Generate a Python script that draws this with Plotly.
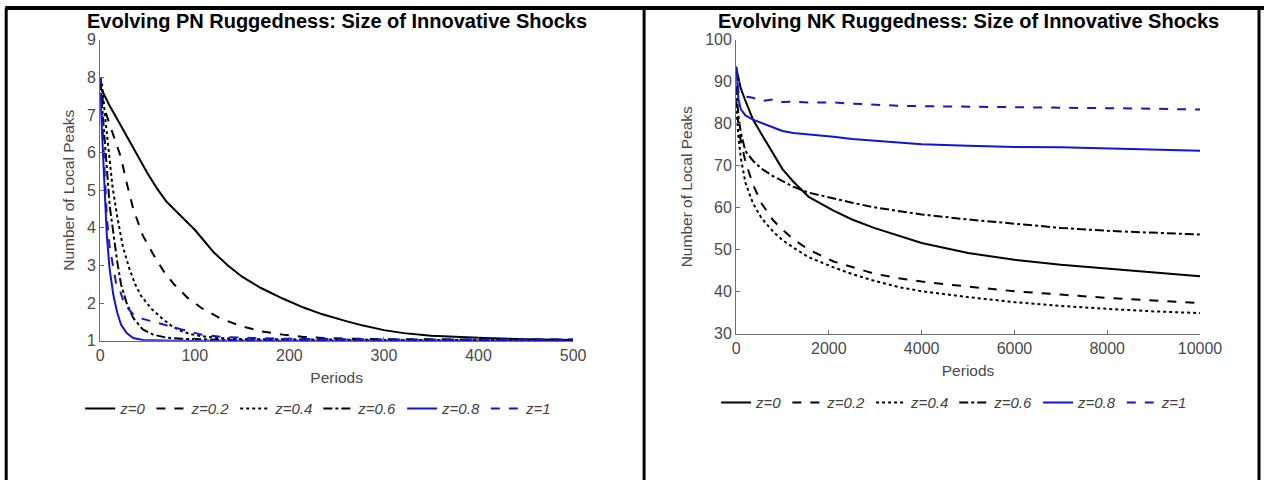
import plotly.graph_objects as go

# ---------------- Data: left panel (PN ruggedness) ----------------
labels = ["z=0", "z=0.2", "z=0.4", "z=0.6", "z=0.8", "z=1"]

pn_x_z0 = [0, 1, 3, 10, 20, 30, 40, 50, 60, 70, 80, 90, 100, 110, 120, 135, 150, 170, 193, 215, 235, 260, 278, 300, 321, 350, 380, 406, 450, 500]
pn_y_z0 = [8.0, 7.7, 7.6, 7.25, 6.8, 6.35, 5.9, 5.45, 5.05, 4.7, 4.45, 4.2, 3.95, 3.65, 3.35, 3.0, 2.7, 2.4, 2.12, 1.88, 1.7, 1.52, 1.4, 1.28, 1.2, 1.13, 1.09, 1.07, 1.04, 1.02]

pn_x_z02 = [0, 2, 4, 10, 16, 22, 28, 35, 45, 56, 67, 78, 92, 107, 128, 150, 170, 193, 215, 235, 270, 300, 400, 500]
pn_y_z02 = [8.0, 7.5, 7.2, 6.75, 6.3, 5.87, 5.2, 4.5, 3.8, 3.3, 2.85, 2.5, 2.15, 1.87, 1.58, 1.38, 1.25, 1.16, 1.1, 1.07, 1.05, 1.04, 1.03, 1.03]

pn_x_z04 = [0, 2, 5, 9, 13, 18, 24, 31, 37, 43, 54, 65, 75, 86, 96, 107, 125, 150, 200, 300, 500]
pn_y_z04 = [8.0, 7.8, 7.0, 6.0, 5.1, 4.3, 3.5, 2.9, 2.5, 2.2, 1.85, 1.6, 1.4, 1.25, 1.17, 1.12, 1.07, 1.04, 1.03, 1.02, 1.02]

pn_x_z06 = [0, 2, 4, 7, 10, 14, 18, 22, 28, 35, 45, 56, 70, 86, 110, 150, 300, 500]
pn_y_z06 = [7.9, 7.3, 6.5, 5.6, 4.6, 3.8, 3.1, 2.5, 2.0, 1.6, 1.3, 1.16, 1.08, 1.05, 1.03, 1.01, 1.0, 1.0]

pn_x_z08 = [0, 1, 2, 4, 7, 10, 14, 18, 22, 28, 35, 45, 56, 80, 500]
pn_y_z08 = [7.6, 7.0, 6.4, 5.6, 3.8, 2.9, 2.2, 1.75, 1.43, 1.2, 1.07, 1.02, 1.01, 1.0, 1.0]

pn_x_z1 = [0, 1, 2, 4, 7, 10, 14, 17, 20, 24, 28, 35, 45, 56, 70, 86, 107, 129, 160, 193, 250, 300, 500]
pn_y_z1 = [8.0, 7.5, 6.9, 6.0, 4.3, 3.5, 2.9, 2.5, 2.4, 2.1, 1.9, 1.7, 1.58, 1.5, 1.4, 1.3, 1.16, 1.1, 1.07, 1.05, 1.04, 1.03, 1.03]

# ---------------- Data: right panel (NK ruggedness) ----------------
nk_x = [0, 50, 100, 200, 365, 550, 800, 1000, 1235, 1565, 2100, 2500, 2974, 3500, 4000, 5000, 6000, 7000, 8000, 9000, 10000]
nk_y_z0 = [93.5, 91.0, 88.5, 85.5, 81.0, 77.5, 73.0, 69.2, 66.2, 62.6, 59.3, 57.2, 55.2, 53.4, 51.6, 49.2, 47.6, 46.4, 45.5, 44.6, 43.7]
nk_y_z02 = [86.0, 80.0, 76.0, 71.0, 65.5, 61.0, 57.0, 54.8, 52.5, 50.0, 47.2, 45.8, 44.3, 43.2, 42.4, 41.2, 40.1, 39.3, 38.5, 37.9, 37.3]
nk_y_z04 = [84.5, 77.0, 72.0, 66.0, 61.0, 57.5, 54.3, 52.3, 50.5, 48.2, 45.8, 44.2, 42.6, 41.1, 40.1, 38.7, 37.5, 36.6, 35.9, 35.3, 34.9]
nk_y_z06 = [89.0, 82.0, 78.0, 73.5, 71.2, 69.3, 67.5, 66.3, 65.0, 63.6, 62.2, 61.2, 60.1, 59.2, 58.4, 57.2, 56.2, 55.2, 54.5, 54.0, 53.6]
nk_y_z08 = [93.5, 86.0, 83.5, 82.0, 81.0, 80.2, 79.2, 78.3, 77.8, 77.5, 76.9, 76.4, 76.0, 75.5, 75.1, 74.8, 74.5, 74.4, 74.1, 73.9, 73.6]
nk_y_z1 = [93.7, 87.5, 86.7, 86.5, 86.2, 85.4, 85.8, 85.2, 85.3, 85.1, 85.1, 84.8, 84.5, 84.3, 84.2, 84.1, 84.0, 83.8, 83.8, 83.6, 83.4]

# ---------------- Styles ----------------
BLACK = "#000000"
BLUE = "#1414d2"
styles = [(BLACK, "solid"), (BLACK, "dash"), (BLACK, "dot"), (BLACK, "dashdot"),
          (BLUE, "solid"), (BLUE, "dash")]

# Figure size and a mapping from target picture pixels to figure pixels
# (the captured picture is slightly offset / scaled relative to the figure).
W, H = 1290, 492
SX, CX = 0.98, 3.8
SY, CY = 0.963, 8.2
FONT = "Liberation Sans, Arial, sans-serif"


def fx(d):
    return (d - CX) / SX


def fy(d):
    return (d - CY) / SY


def px_x(d):
    return fx(d) / W


def px_y(d):
    return 1 - fy(d) / H


fig = go.Figure()

pn_series = [(pn_x_z0, pn_y_z0), (pn_x_z02, pn_y_z02), (pn_x_z04, pn_y_z04),
             (pn_x_z06, pn_y_z06), (pn_x_z08, pn_y_z08), (pn_x_z1, pn_y_z1)]
for (xs, ys), lab, (col, dash) in zip(pn_series, labels, styles):
    fig.add_trace(go.Scatter(x=xs, y=ys, mode="lines", name="<i>%s</i>" % lab,
                             line=dict(color=col, dash=dash, width=2),
                             xaxis="x", yaxis="y", legend="legend"))

nk_series = [nk_y_z0, nk_y_z02, nk_y_z04, nk_y_z06, nk_y_z08, nk_y_z1]
for ys, lab, (col, dash) in zip(nk_series, labels, styles):
    fig.add_trace(go.Scatter(x=nk_x, y=ys, mode="lines", name="<i>%s</i>" % lab,
                             line=dict(color=col, dash=dash, width=2),
                             xaxis="x2", yaxis="y2", legend="legend2"))

AX_COL = "#6e6e6e"
TICK_FONT = dict(family=FONT, size=16, color="#4a4a4a")
TITLE_FONT = dict(family=FONT, size=15.5, color="#4a4a4a")
LEG_FONT = dict(family=FONT, size=15, color="#404040")

common = dict(showgrid=False, zeroline=False, showline=True, linecolor=AX_COL, linewidth=1,
              ticks="inside", ticklen=4, tickcolor=AX_COL, tickfont=TICK_FONT)

fig.update_layout(
    width=W, height=H,
    margin=dict(l=0, r=0, t=0, b=0),
    paper_bgcolor="white", plot_bgcolor="white",
    font=dict(family=FONT),
    xaxis=dict(domain=[px_x(100), px_x(573)], range=[0, 500], tickvals=[0, 100, 200, 300, 400, 500],
               anchor="y", title=dict(text="Periods", font=TITLE_FONT, standoff=9), **common),
    yaxis=dict(domain=[px_y(340), px_y(40)], range=[1, 9], dtick=1, anchor="x",
               title=dict(text="Number of Local Peaks", font=TITLE_FONT, standoff=8), **common),
    xaxis2=dict(domain=[px_x(736), px_x(1200)], range=[0, 10000], tickvals=[0, 2000, 4000, 6000, 8000, 10000],
                tickformat="d", anchor="y2", title=dict(text="Periods", font=TITLE_FONT, standoff=9), **common),
    yaxis2=dict(domain=[px_y(333), px_y(40)], range=[30, 100], dtick=10, anchor="x2",
                title=dict(text="Number of Local Peaks", font=TITLE_FONT, standoff=8), **common),
    legend=dict(orientation="h", x=px_x(80), y=px_y(408), xanchor="left", yanchor="middle",
                font=LEG_FONT, bgcolor="rgba(0,0,0,0)", tracegroupgap=0, itemwidth=30),
    legend2=dict(orientation="h", x=px_x(716), y=px_y(402), xanchor="left", yanchor="middle",
                 font=LEG_FONT, bgcolor="rgba(0,0,0,0)", tracegroupgap=0, itemwidth=30),
    showlegend=True,
)

# Titles
for cx, txt in [((100 + 573) / 2, "Evolving PN Ruggedness: Size of Innovative Shocks"),
                ((736 + 1200) / 2, "Evolving NK Ruggedness: Size of Innovative Shocks")]:
    fig.add_annotation(x=px_x(cx), y=px_y(21), xref="paper", yref="paper", text="<b>%s</b>" % txt,
                       showarrow=False, xanchor="center", yanchor="middle",
                       font=dict(family=FONT, size=20, color="black"))

# Table borders
border = dict(color="black", width=3)
fig.add_shape(type="line", xref="paper", yref="paper", x0=px_x(5), x1=1, y0=1, y1=1,
              line=dict(color="black", width=4))
fig.add_shape(type="line", xref="paper", yref="paper", x0=px_x(6), x1=px_x(6), y0=1, y1=0, line=border)
fig.add_shape(type="line", xref="paper", yref="paper", x0=px_x(644), x1=px_x(644), y0=1, y1=0, line=border)
fig.add_shape(type="line", xref="paper", yref="paper", x0=px_x(1259), x1=px_x(1259), y0=1, y1=0, line=border)

fig.write_html("out.html")
